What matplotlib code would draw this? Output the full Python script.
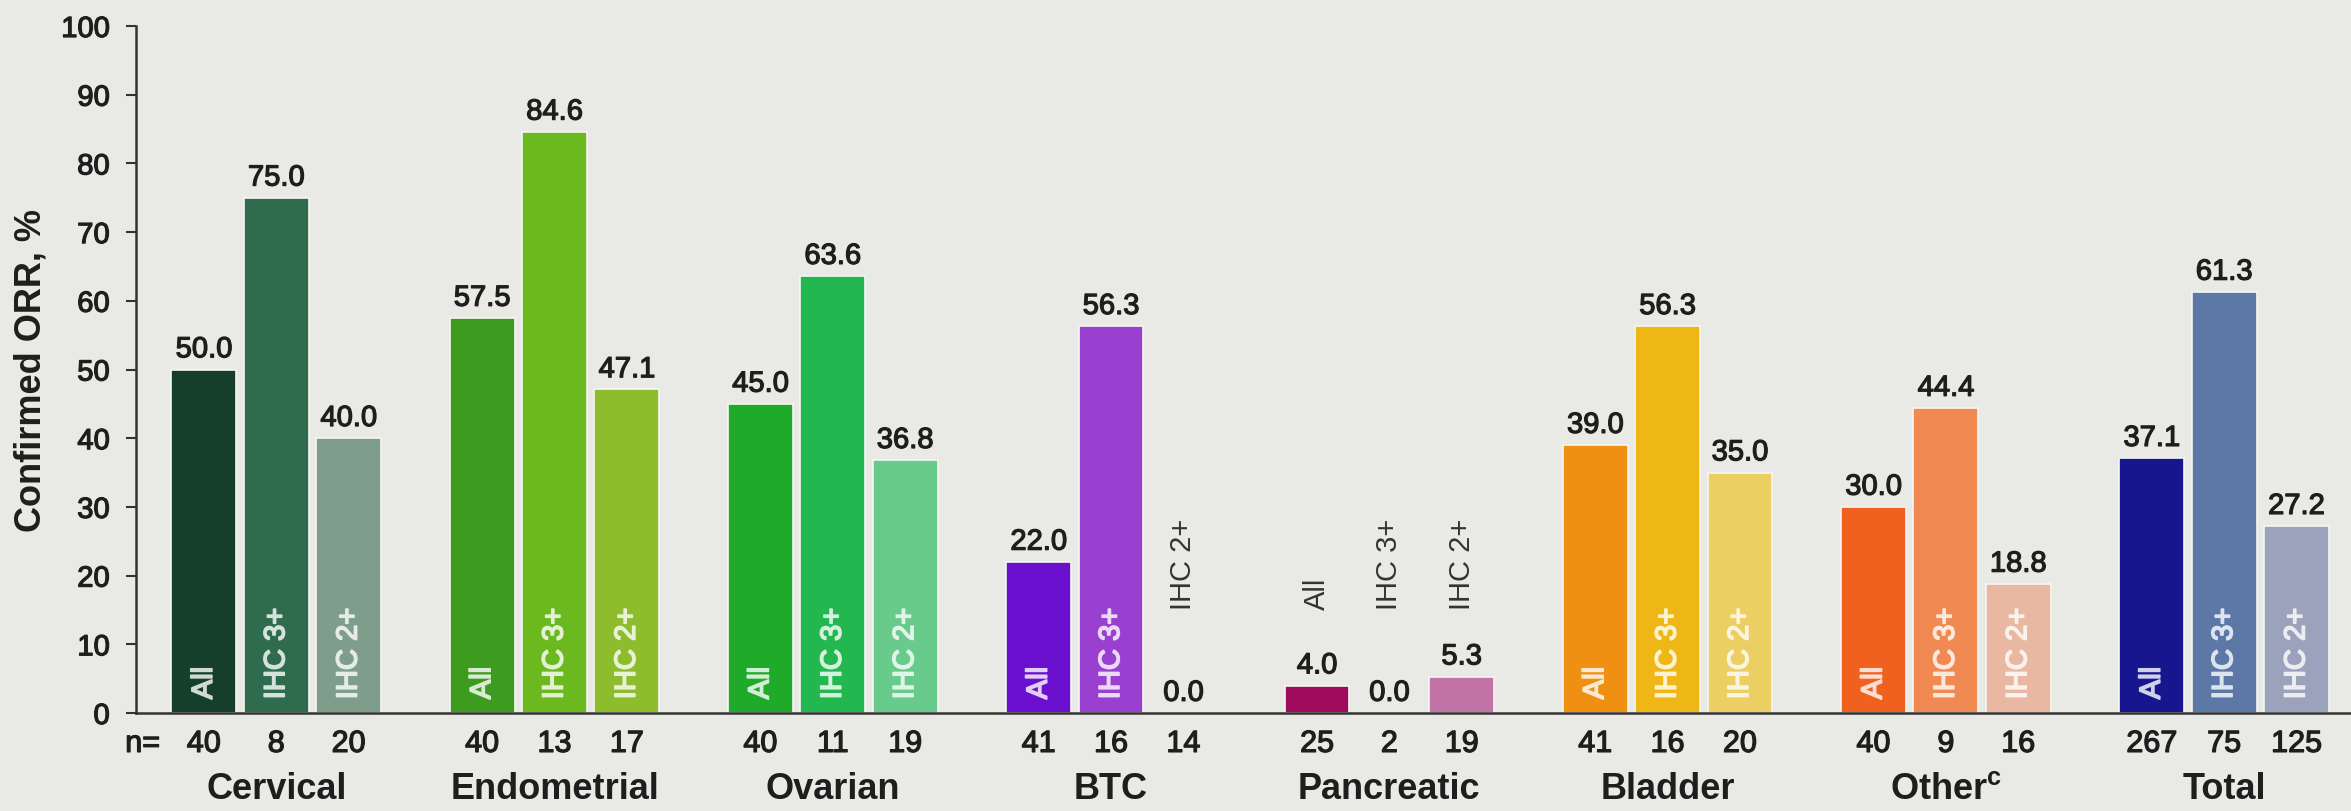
import numpy as np
import matplotlib
matplotlib.use('Agg')
import matplotlib.pyplot as plt
import matplotlib.patheffects as pe
from matplotlib.colors import to_rgb

plt.rcParams['font.family'] = ['Liberation Sans', 'DejaVu Sans']
plt.rcParams['mathtext.fontset'] = 'custom'
plt.rcParams['mathtext.bf'] = 'Liberation Sans:bold'
plt.rcParams['mathtext.rm'] = 'Liberation Sans'

# ---- data ----
groups = ['Cervical', 'Endometrial', 'Ovarian', 'BTC', 'Pancreatic',
          'Bladder', r'Other$^\mathbf{c}$', 'Total']
subgroups = ['All', 'IHC 3+', 'IHC 2+']

orr_all = [50.0, 57.5, 45.0, 22.0, 4.0, 39.0, 30.0, 37.1]
orr_ihc3 = [75.0, 84.6, 63.6, 56.3, 0.0, 56.3, 44.4, 61.3]
orr_ihc2 = [40.0, 47.1, 36.8, 0.0, 5.3, 35.0, 18.8, 27.2]

n_all = [40, 40, 40, 41, 25, 41, 40, 267]
n_ihc3 = [8, 13, 11, 16, 2, 16, 9, 75]
n_ihc2 = [20, 17, 19, 14, 19, 20, 16, 125]

colors = [
    ['#153f2a', '#2e6c4d', '#7f9d8b'],   # Cervical
    ['#3d9b1f', '#6bb81f', '#8dbc2d'],   # Endometrial
    ['#1faa2a', '#22b84f', '#68ca8b'],   # Ovarian
    ['#6a0fcd', '#9a40d0', '#b58fd6'],   # BTC
    ['#a00a5c', '#c070a6', '#c274a8'],   # Pancreatic
    ['#ef9012', '#efb716', '#ebcf62'],   # Bladder
    ['#f0601f', '#f08a52', '#e9b8a3'],   # Other
    ['#17168f', '#5b78a7', '#9aa3bb'],   # Total
]

bg = '#e9e9e6'
txt = '#1e1e1e'


def thick(c, w=0.9):
    # photo of a slide: text looks a bit heavier than plain regular
    return [pe.withStroke(linewidth=w, foreground=c)]


fig = plt.figure(figsize=(23.51, 8.11), dpi=100, facecolor=bg)
ax = fig.add_axes([136/2351, 1 - 713/811, 1 - 136/2351, 687/811])
ax.set_facecolor(bg)

x = np.arange(len(groups))
step = 0.26
width = 0.233
series = [orr_all, orr_ihc3, orr_ihc2]
ns = [n_all, n_ihc3, n_ihc2]

for j, (vals, nn) in enumerate(zip(series, ns)):
    xs = x + (j - 1) * step
    for i in range(len(groups)):
        v = vals[i]
        c = colors[i][j]
        ax.bar(xs[i], v, width=width, color=c, edgecolor='#f6f6f2',
               linewidth=1.2, zorder=2)
        ax.text(xs[i], v + 0.9, '{:.1f}'.format(v), ha='center', va='bottom',
                fontsize=21, color=txt, zorder=3, path_effects=thick(txt))
        if v >= 15:
            rgb = np.array(to_rgb(c))
            tint = 0.2 * rgb + 0.8 * np.ones(3)
            ax.text(xs[i], 2.0, subgroups[j], rotation=90, ha='center',
                    va='bottom', fontsize=21, color=tint, zorder=3,
                    path_effects=thick(tint, 1.2))
        else:
            ax.text(xs[i], 15.0, subgroups[j], rotation=90, ha='center',
                    va='bottom', fontsize=21, color='#333333', zorder=3)
        ax.text(xs[i], -0.045, str(nn[i]), transform=ax.get_xaxis_transform(),
                ha='center', va='center', fontsize=22, color=txt,
                path_effects=thick(txt))

for i, g in enumerate(groups):
    ax.text(x[i], -0.112, g, transform=ax.get_xaxis_transform(),
            ha='center', va='center', fontsize=26, fontweight='bold', color=txt)

ax.text(-0.48, -0.045, 'n=', transform=ax.get_xaxis_transform(),
        ha='center', va='center', fontsize=22, color=txt,
        path_effects=thick(txt))

ax.set_xlim(-0.504, 7.456)
ax.set_ylim(0, 100)
ax.set_yticks(np.arange(0, 101, 10))
ax.set_xticks([])
ax.tick_params(axis='y', length=7, width=1.5, pad=12, labelsize=21,
               color='#333333', labelcolor=txt)
for lab in ax.get_yticklabels():
    lab.set_path_effects(thick(txt))
for s in ['top', 'right']:
    ax.spines[s].set_visible(False)
for s in ['left', 'bottom']:
    ax.spines[s].set_color('#333333')
    ax.spines[s].set_linewidth(1.8)

fig.text(31/2351, 1 - 370/811, 'Confirmed ORR, %', rotation=90,
         ha='center', va='center', fontsize=26, fontweight='bold', color=txt)

fig.savefig('out.png', dpi=100, facecolor=bg)
